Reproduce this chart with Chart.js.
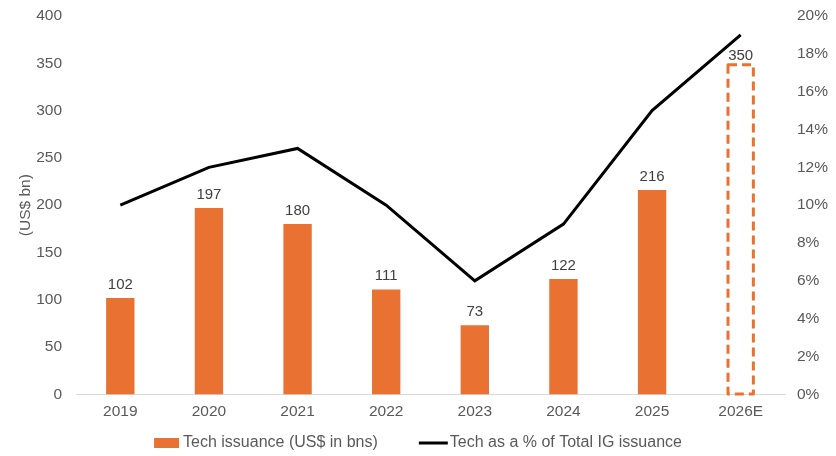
<!DOCTYPE html>
<html>
<head>
<meta charset="utf-8">
<style>
	body { margin: 0; background: #fff; }
	#wrap { width: 836px; height: 456px; }
</style>
<script src="https://cdn.jsdelivr.net/npm/chart.js@4/dist/chart.umd.min.js"></script>
</head>
<body>
<div id="wrap"><canvas id="issuance"></canvas></div>
<script>
	// data
	var years = ['2019', '2020', '2021', '2022', '2023', '2024', '2025', '2026E'];
	var techIssuance = [102, 197, 180, 111, 73, 122, 216, 350];
	var techShare = [10, 12, 13, 10, 6, 9, 15, 19];
	var barLabel = 'Tech issuance (US$ in bns)';
	var lineLabel = 'Tech as a % of Total IG issuance';
	var orange = '#E97132';
	var grey = '#595959';
	var fontFam = '"Liberation Sans", Arial, sans-serif';

	// last bar is an estimate: no fill, dashed outline
	var barFill = techIssuance.map(function (v, i) { return i === years.length - 1 ? 'rgba(0,0,0,0)' : orange; });

	var barExtras = {
		id: 'barExtras',
		afterDatasetsDraw: function (chart) {
			var ctx = chart.ctx;
			var meta = chart.getDatasetMeta(0);
			ctx.save();
			// dashed box for the estimate
			var last = meta.data[meta.data.length - 1];
			var w = last.width;
			ctx.strokeStyle = orange;
			ctx.lineWidth = 3;
			ctx.setLineDash([9, 5]);
			ctx.lineJoin = 'round';
			ctx.strokeRect(last.x - w / 2 + 1.5, last.y + 1.5, w - 3, last.base - last.y - 2);
			ctx.setLineDash([]);
			// value labels
			ctx.font = '15px ' + fontFam;
			ctx.fillStyle = '#404040';
			ctx.textAlign = 'center';
			ctx.textBaseline = 'bottom';
			meta.data.forEach(function (bar, i) {
				var off = i === meta.data.length - 1 ? 0 : 6;
				ctx.fillText(techIssuance[i], bar.x, bar.y - off);
			});
			ctx.restore();
		},
		// legend drawn by hand so the spacing matches
		afterDraw: function (chart) {
			var ctx = chart.ctx;
			ctx.save();
			ctx.font = '16px ' + fontFam;
			var w1 = ctx.measureText(barLabel).width;
			var w2 = ctx.measureText(lineLabel).width;
			var total = 25 + 4 + w1 + 41 + 29 + 2 + w2;
			var x = (chart.width - total) / 2;
			var y = 443;
			ctx.fillStyle = orange;
			ctx.fillRect(x, y - 5, 25, 10);
			ctx.fillStyle = grey;
			ctx.textBaseline = 'middle';
			ctx.fillText(barLabel, x + 29, y);
			x += 29 + w1 + 41;
			ctx.strokeStyle = '#000';
			ctx.lineWidth = 3;
			ctx.beginPath();
			ctx.moveTo(x, y);
			ctx.lineTo(x + 29, y);
			ctx.stroke();
			ctx.fillText(lineLabel, x + 31, y);
			ctx.restore();
		}
	};

	new Chart(document.getElementById('issuance'), {
		type: 'bar',
		data: {
			labels: years,
			datasets: [{
				type: 'bar',
				label: barLabel,
				data: techIssuance,
				backgroundColor: barFill,
				barPercentage: 0.64,
				categoryPercentage: 0.5,
				yAxisID: 'y',
				order: 2
			}, {
				type: 'line',
				label: lineLabel,
				data: techShare,
				borderColor: '#000',
				borderWidth: 3,
				pointRadius: 0,
				tension: 0,
				yAxisID: 'y1',
				order: 1
			}]
		},
		options: {
			responsive: true,
			maintainAspectRatio: false,
			animation: false,
			layout: { padding: { top: 16, right: 0, left: 0, bottom: 27 } },
			plugins: {
				legend: { display: false },
				tooltip: { enabled: false }
			},
			scales: {
				x: {
					grid: { display: false, drawTicks: false },
					border: { color: '#d9d9d9' },
					ticks: { color: grey, padding: 8, font: { family: fontFam, size: 15.5 } }
				},
				y: {
					position: 'left',
					min: 0, max: 400,
					grid: { display: false, drawTicks: false },
					border: { display: false },
					ticks: { stepSize: 50, color: grey, padding: 14, font: { family: fontFam, size: 15.5 } },
					title: { display: true, text: '(US$ bn)', color: grey, padding: { top: 16, bottom: 0 }, font: { family: fontFam, size: 15.5 } },
					afterFit: function (s) { s.width = 76; s.paddingTop = 0; s.paddingBottom = 0; }
				},
				y1: {
					position: 'right',
					min: 0, max: 20,
					grid: { display: false, drawTicks: false },
					border: { display: false },
					ticks: {
						stepSize: 2, color: grey, padding: 12,
						font: { family: fontFam, size: 15.5 },
						callback: function (v) { return v + '%'; }
					},
					afterFit: function (s) { s.width = 51; s.paddingTop = 0; s.paddingBottom = 0; }
				}
			}
		},
		plugins: [barExtras]
	});
</script>
</body>
</html>
